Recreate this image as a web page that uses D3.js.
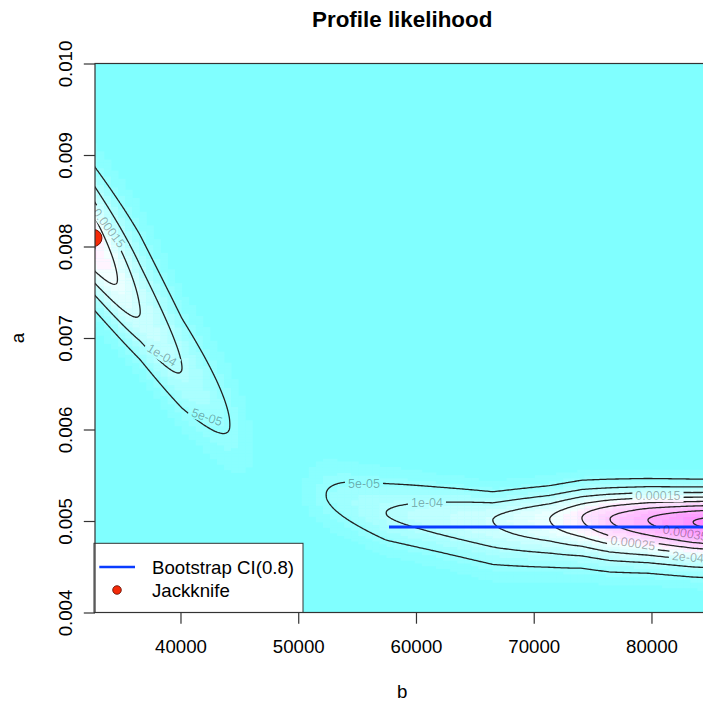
<!DOCTYPE html>
<html><head><meta charset="utf-8">
<script src="https://cdn.jsdelivr.net/npm/d3@7"></script>
<style>body{margin:0;background:#fff}svg{display:block}text{font-family:"Liberation Sans",Arial,Helvetica,sans-serif}</style>
</head><body><svg id="c" width="703" height="706"></svg>
<script>
// ---------- axes ----------
const xTicks = [40000, 50000, 60000, 70000, 80000];
const yTicks = [0.004, 0.005, 0.006, 0.007, 0.008, 0.009, 0.010];
const xDomain = [32740, 84920];
const yDomain = [0.004, 0.010];
const titleText = "Profile likelihood";
const xLabel = "b", yLabel = "a";

// ---------- contour levels ----------
const levels = [5e-5, 1e-4, 1.5e-4, 2e-4, 2.5e-4, 3e-4, 3.5e-4, 4e-4];

// ---------- likelihood surface: left ridge (sections along b) ----------
const leftB      = [29766, 32739, 36561, 40127, 44204, 47176];
const leftPeak   = [3.0e-4, 2.5e-4, 1.5e-4, 1.0e-4, 5e-5, 0];
const leftCenter = [0.008530, 0.007984, 0.007284, 0.006672, 0.006049, 0.005612];
const leftSdUp   = [0.000492, 0.000492, 0.000568, 0.000459, 0.000437, 0.000437];
const leftSdLow  = [0.000383, 0.000383, 0.000350, 0.000372, 0.000350, 0.000350];

// ---------- likelihood surface: right ridge ----------
const rightB      = [49299, 52357, 57452, 62038, 66539, 71380, 74098, 76476, 79703, 83524, 87516, 94310];
const rightPeak   = [0, 5e-5, 1.0e-4, 1.25e-4, 1.5e-4, 2.0e-4, 2.5e-4, 3.0e-4, 3.5e-4, 4.0e-4, 4.35e-4, 4.5e-4];
const rightCenter = [0.005339, 0.005284, 0.005087, 0.005044, 0.005011, 0.005022, 0.005033, 0.005022, 0.005011, 0.004989, 0.004978, 0.004978];
const rightSdUp   = [0.000273, 0.000273, 0.000273, 0.000240, 0.000208, 0.000219, 0.000230, 0.000230, 0.000230, 0.000230, 0.000230, 0.000230];
const rightSdLow  = [0.000251, 0.000251, 0.000251, 0.000284, 0.000328, 0.000317, 0.000306, 0.000306, 0.000295, 0.000295, 0.000295, 0.000295];

// colour scale (cm.colors)
const colorCount = 24;
const zRange = [0, 4.4e-4];

// ---------- overlays ----------
const ciB = [57710, 86500];
const ciA = 0.004934;
const jackB = 32611, jackA = 0.008093;

// contour labels
const labelText  = ["0.00015", "1e-04", "5e-05", "5e-05", "1e-04", "0.00015", "0.00035", "0.00025", "2e-04"];
const labelB     = [33928, 38429, 42251, 55584, 60934, 80552, 82866, 78429, 83100];
const labelA     = [0.008202, 0.006814, 0.006137, 0.005404, 0.005197, 0.005273, 0.004869, 0.004760, 0.004607];
const labelAngle = [53, 31, 19, 0, 0, 0, 10, 8, 5];

const legendLabels = ["Bootstrap CI(0.8)", "Jackknife"];

// ================= drawing =================
const svg = d3.select("#c");
const plotL = 95, plotR = 709.4, plotT = 63.5, plotB = 612.5;
const x = d3.scaleLinear().domain(xDomain).range([plotL, plotR]);
const y = d3.scaleLinear().domain(yDomain).range([plotB, plotT]);
const FS = 18.67;

function interp(xs, ys, v) {
  if (v <= xs[0]) return ys[0];
  if (v >= xs[xs.length - 1]) return ys[ys.length - 1];
  const i = d3.bisectRight(xs, v) - 1;
  const t = (v - xs[i]) / (xs[i + 1] - xs[i]);
  return ys[i] + t * (ys[i + 1] - ys[i]);
}
const ridges = [
  {b: leftB, peak: leftPeak, center: leftCenter, up: leftSdUp, low: leftSdLow},
  {b: rightB, peak: rightPeak, center: rightCenter, up: rightSdUp, low: rightSdLow}
];
function zAt(b, a) {
  let s = 0;
  for (const R of ridges) {
    const p = interp(R.b, R.peak, b);
    if (p <= 0) continue;
    const c = interp(R.b, R.center, b);
    const sd = a > c ? interp(R.b, R.up, b) : interp(R.b, R.low, b);
    const d = (a - c) / sd;
    s += p * Math.exp(-0.5 * d * d);
  }
  return s;
}
function cmColors(n) {
  const even = n % 2 === 0, k = Math.floor(n / 2);
  const l1 = k + 1 - (even ? 1 : 0), l2 = n - k + (even ? 1 : 0);
  const out = [];
  const seq = (a, b, len) => d3.range(len).map(i => len === 1 ? a : a + (b - a) * i / (len - 1));
  seq(0.5, even ? 0.5 / k : 0, l1).forEach(s => out.push(d3.rgb(255 * (1 - s), 255, 255).toString()));
  if (l2 > 1) seq(0, 0.5, l2).slice(1).forEach(s => out.push(d3.rgb(255, 255 * (1 - s), 255).toString()));
  return out;
}
const cols = cmColors(colorCount);

const defs = svg.append("defs");
defs.append("clipPath").attr("id", "plotclip").append("rect")
  .attr("x", plotL).attr("y", plotT).attr("width", plotR - plotL).attr("height", plotB - plotT);

const plot = svg.append("g").attr("clip-path", "url(#plotclip)");
plot.append("rect").attr("x", plotL).attr("y", plotT).attr("width", plotR - plotL).attr("height", plotB - plotT).attr("fill", cols[0]);

// heat-map cells
const cellB = 600, cellA = 0.00003;
const cells = [];
for (let b = 29000; b <= 90000; b += cellB) {
  for (let a = 0.004 + cellA / 2; a < 0.010; a += cellA) {
    const z = zAt(b, a);
    let k = Math.floor((z - zRange[0]) / (zRange[1] - zRange[0]) * colorCount);
    k = Math.max(0, Math.min(colorCount - 1, k));
    if (k > 0) cells.push({b, a, k});
  }
}
plot.append("g").selectAll("rect").data(cells).join("rect")
  .attr("x", d => x(d.b - cellB / 2)).attr("y", d => y(d.a + cellA / 2))
  .attr("width", d => x(d.b + cellB / 2) - x(d.b - cellB / 2) + 0.4)
  .attr("height", d => y(d.a - cellA / 2) - y(d.a + cellA / 2) + 0.4)
  .attr("fill", d => cols[d.k]);

// contour grid
const g0b = 29000, gdb = 150, g0a = 0.00395, gda = 0.00001;
const nb = Math.ceil((90500 - g0b) / gdb), na = Math.ceil((0.01006 - g0a) / gda);
const vals = new Float64Array(nb * na);
for (let j = 0; j < na; j++) for (let i = 0; i < nb; i++) vals[i + j * nb] = zAt(g0b + i * gdb, g0a + j * gda);
const conts = d3.contours().size([nb, na]).thresholds(levels)(vals);
const proj = d3.geoTransform({point: function(px, py) {
  this.stream.point(x(g0b + (px - 0.5) * gdb), y(g0a + (py - 0.5) * gda));
}});
const path = d3.geoPath(proj);

// label layer (measure first for mask)
const labelData = labelText.map((t, i) => ({t, b: labelB[i], a: labelA[i], ang: labelAngle[i]}));
const lblG = svg.append("g").attr("clip-path", "url(#plotclip)");
const lbls = lblG.selectAll("text").data(labelData).join("text")
  .attr("transform", d => `translate(${x(d.b)},${y(d.a)}) rotate(${d.ang})`)
  .attr("text-anchor", "middle").attr("dy", "0.35em")
  .attr("font-size", 12.5).attr("fill", "#000").attr("fill-opacity", 0.33)
  .text(d => d.t);
lbls.each(function(d) { d.w = this.getComputedTextLength(); });

const mask = defs.append("mask").attr("id", "lblmask").attr("maskUnits", "userSpaceOnUse")
  .attr("x", 0).attr("y", 0).attr("width", 800).attr("height", 706);
mask.append("rect").attr("x", 0).attr("y", 0).attr("width", 800).attr("height", 706).attr("fill", "#fff");
mask.selectAll("rect.h").data(labelData).join("rect").attr("class", "h")
  .attr("transform", d => `translate(${x(d.b)},${y(d.a)}) rotate(${d.ang})`)
  .attr("x", d => -d.w / 2 - 3).attr("y", -6).attr("width", d => d.w + 6).attr("height", 12).attr("fill", "#000");

plot.append("g").attr("mask", "url(#lblmask)").selectAll("path").data(conts).join("path")
  .attr("d", path).attr("fill", "none").attr("stroke", "#222").attr("stroke-width", 1.3);

// CI line and jackknife point
plot.append("line").attr("x1", x(ciB[0])).attr("x2", x(ciB[1])).attr("y1", y(ciA)).attr("y2", y(ciA))
  .attr("stroke", "#0a3cff").attr("stroke-width", 3);
plot.append("circle").attr("cx", x(jackB)).attr("cy", y(jackA)).attr("r", 8.5)
  .attr("fill", "#f42a08").attr("stroke", "#5a0a00").attr("stroke-width", 0.9);
lblG.raise();

// legend
const leg = svg.append("g");
leg.append("rect").attr("x", plotL - 1).attr("y", 543.3).attr("width", 303 - plotL + 1).attr("height", plotB - 543.3)
  .attr("fill", "#fff").attr("stroke", "#333").attr("stroke-width", 1);
leg.append("line").attr("x1", 99.3).attr("x2", 135).attr("y1", 567).attr("y2", 567).attr("stroke", "#0a3cff").attr("stroke-width", 2.5);
leg.append("circle").attr("cx", 117).attr("cy", 590).attr("r", 4.3).attr("fill", "#f42a08").attr("stroke", "#5a0a00").attr("stroke-width", 0.8);
leg.selectAll("text").data(legendLabels).join("text")
  .attr("x", 152).attr("y", (d, i) => 567 + i * 23).attr("dy", "0.35em")
  .attr("font-size", FS).attr("fill", "#000").text(d => d);

// frame
svg.append("rect").attr("x", plotL).attr("y", plotT).attr("width", plotR - plotL).attr("height", plotB - plotT)
  .attr("fill", "none").attr("stroke", "#333").attr("stroke-width", 1.2);

// axes
const xa = svg.append("g").attr("transform", `translate(0,${plotB})`)
  .call(d3.axisBottom(x).tickValues(xTicks).tickSize(11.2).tickPadding(0).tickFormat(d3.format("d")));
xa.select(".domain").remove();
xa.selectAll("line").attr("stroke", "#333").attr("stroke-width", 1.2);
xa.selectAll("text").attr("y", 40).attr("dy", 0).attr("font-size", FS).attr("fill", "#000")
  .style("font-family", '"Liberation Sans",Arial,sans-serif');

const ya = svg.append("g").attr("transform", `translate(${plotL},0)`)
  .call(d3.axisLeft(y).tickValues(yTicks).tickSize(11.2).tickFormat(d3.format(".3f")));
ya.select(".domain").remove();
ya.selectAll("line").attr("stroke", "#333").attr("stroke-width", 1.2);
ya.selectAll("text").attr("x", null).attr("dy", null)
  .attr("transform", "translate(-22.6,0) rotate(-90)").attr("text-anchor", "middle").attr("y", 0)
  .attr("font-size", FS).attr("fill", "#000")
  .style("font-family", '"Liberation Sans",Arial,sans-serif');

// titles
svg.append("text").attr("x", (plotL + plotR) / 2).attr("y", 27).attr("text-anchor", "middle")
  .attr("font-size", 22.4).attr("font-weight", "bold").text(titleText);
svg.append("text").attr("x", (plotL + plotR) / 2).attr("y", 698).attr("text-anchor", "middle")
  .attr("font-size", FS).text(xLabel);
svg.append("text").attr("transform", `translate(23.5,${(plotT + plotB) / 2}) rotate(-90)`).attr("text-anchor", "middle")
  .attr("font-size", FS).text(yLabel);
</script></body></html>
